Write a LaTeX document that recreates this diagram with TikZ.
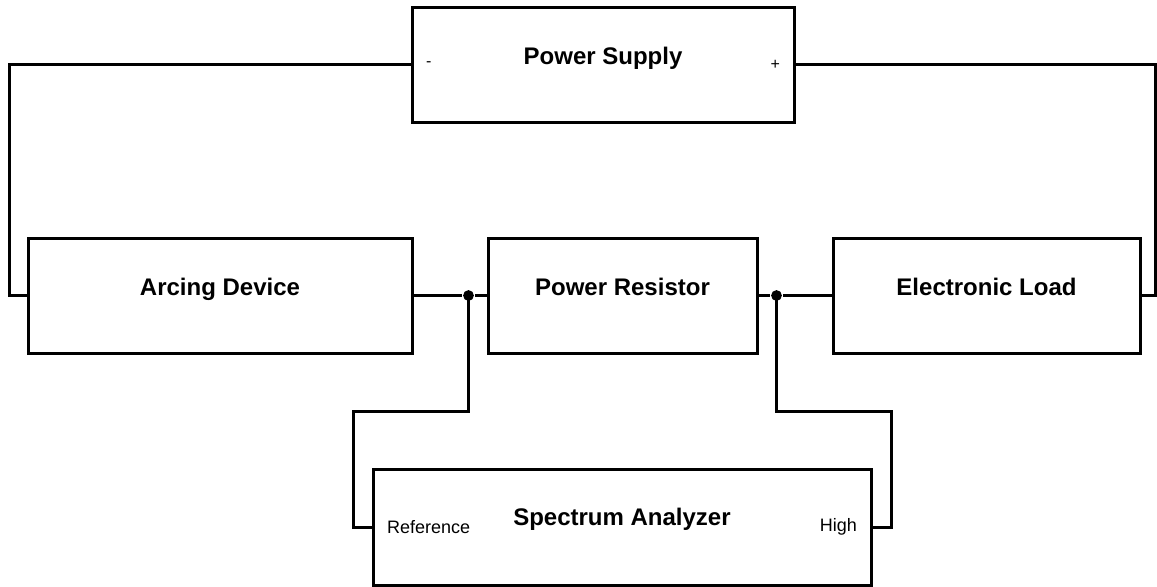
\documentclass[tikz,border=0pt]{standalone}
\usepackage{fontspec}
\setmainfont{Liberation Sans}
\usetikzlibrary{positioning,calc}

\begin{document}
\begin{tikzpicture}[
    x=0.5pt,y=-0.5pt,
    node distance=36.5pt,
    line width=1.5pt,
    unit/.style={draw,minimum height=57.5pt},
    unittitle/.style={font=\fontsize{12}{14}\selectfont\bfseries,
      text height=9pt,text depth=2.6pt,yshift=3pt},
    portlbl/.style={font=\fontsize{9}{11}\selectfont,inner sep=0pt},
    junction/.style={circle,fill,inner sep=0pt,minimum size=5.4pt}]
  \useasboundingbox (0,0) rectangle (1157,586);
  \node[unit,minimum width=191pt,
    label={[unittitle]center:Power Supply},
    label={[portlbl,font=\fontsize{8}{10}\selectfont,anchor=west,xshift=7pt]west:-},
    label={[portlbl,font=\fontsize{8}{10}\selectfont,anchor=east,xshift=-7pt]east:+}] (supply) at (603,64.5) {};
  \node[unit,minimum width=192pt,label={[unittitle]center:Arcing Device}] (arcing) at (220,295.5) {};
  \node[unit,minimum width=134.5pt,right=of arcing,label={[unittitle]center:Power Resistor}] (resistor) {};
  \node[unit,minimum width=153.5pt,right=of resistor,label={[unittitle]center:Electronic Load}] (eload) {};
  \node[unit,minimum width=249pt,minimum height=58pt,
    label={[unittitle,yshift=1pt]center:Spectrum Analyzer},
    label={[portlbl,anchor=west,xshift=7pt]west:Reference},
    label={[portlbl,anchor=east,xshift=-7pt]east:High}] (analyzer) at (622,527) {};
  \node[junction] (jref) at ($(resistor.west)+(-18,0)$) {};
  \node[junction] (jhigh) at ($(resistor.east)+(18,0)$) {};
  \draw (supply.west) -- ++(-401,0) |- (arcing.west);
  \draw (supply.east) -- ++(360,0) |- (eload.east);
  \draw (arcing) -- (jref) -- (resistor);
  \draw (resistor) -- (jhigh) -- (eload);
  \draw (jref.center) |- ++(-115,116) |- (analyzer.west);
  \draw (jhigh.center) |- ++(115,116) |- (analyzer.east);
\end{tikzpicture}
\end{document}
